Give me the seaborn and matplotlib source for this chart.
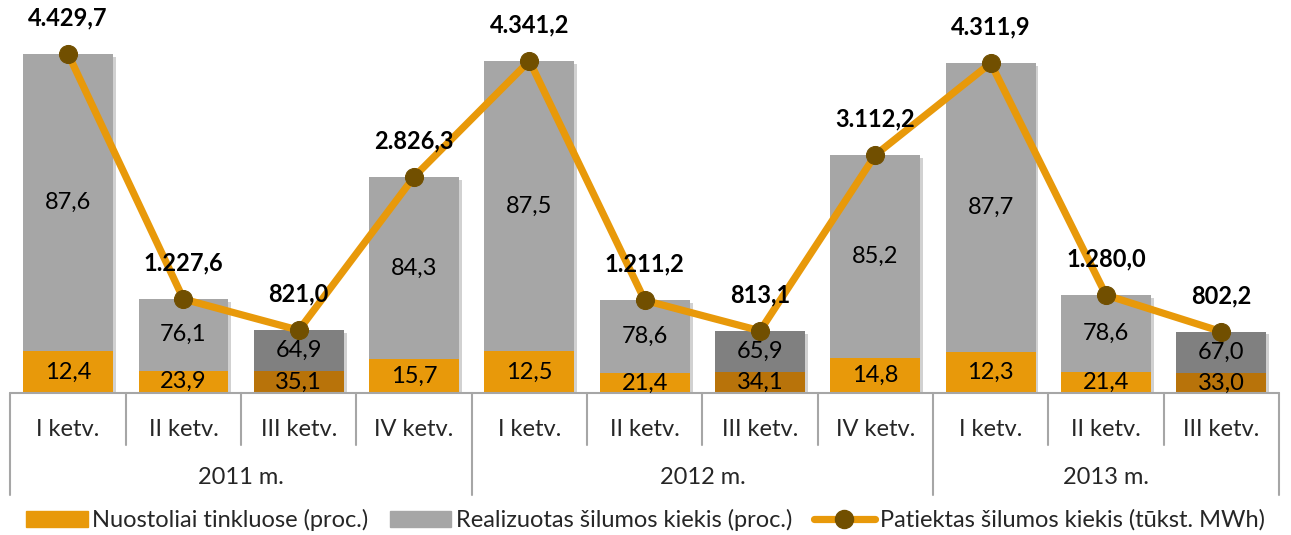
import numpy as np
import pandas as pd
import matplotlib
matplotlib.use("Agg")
import matplotlib.pyplot as plt
import matplotlib.patheffects as pe
from matplotlib.patches import Patch
from matplotlib.lines import Line2D
import seaborn as sns

# ---- data ----
years = ["2011 m.", "2012 m.", "2013 m."]
year_of = ["2011 m."] * 4 + ["2012 m."] * 4 + ["2013 m."] * 3
quarters = ["I ketv.", "II ketv.", "III ketv.", "IV ketv.",
            "I ketv.", "II ketv.", "III ketv.", "IV ketv.",
            "I ketv.", "II ketv.", "III ketv."]
supplied = [4429.7, 1227.6, 821.0, 2826.3, 4341.2, 1211.2, 813.1, 3112.2, 4311.9, 1280.0, 802.2]
losses_pct = [12.4, 23.9, 35.1, 15.7, 12.5, 21.4, 34.1, 14.8, 12.3, 21.4, 33.0]
realized_pct = [87.6, 76.1, 64.9, 84.3, 87.5, 78.6, 65.9, 85.2, 87.7, 78.6, 67.0]

ORANGE = "#E8990A"
ORANGE_D = "#B8730A"
GRAY = "#A6A6A6"
GRAY_D = "#808080"
BROWN = "#714F00"

keys = [f"{y} {q}" for y, q in zip(year_of, quarters)]
df = pd.DataFrame({"key": keys, "quarter": quarters, "year": year_of,
                   "supplied": supplied, "loss_pct": losses_pct, "real_pct": realized_pct})
df["loss_amt"] = df["supplied"] * df["loss_pct"] / 100.0

is_q3 = [q == "III ketv." for q in quarters]
gray_pal = [GRAY_D if q3 else GRAY for q3 in is_q3]
orange_pal = [ORANGE_D if q3 else ORANGE for q3 in is_q3]

sns.set_theme(style="white")
plt.rcParams["font.family"] = ["Lato", "DejaVu Sans"]

fig = plt.figure(figsize=(12.91, 5.35), dpi=100)
ax = fig.add_axes([10.5 / 1291, (535 - 393) / 535, 1268.5 / 1291, 393 / 535])

shadow = [pe.SimplePatchShadow(offset=(2, -2), alpha=0.18, shadow_rgbFace="black"), pe.Normal()]

sns.barplot(data=df, x="key", y="supplied", hue="key", order=keys, hue_order=keys,
            palette=gray_pal, saturation=1, width=0.78, legend=False, ax=ax, errorbar=None,
            linewidth=0, edgecolor="none")
sns.barplot(data=df, x="key", y="loss_amt", hue="key", order=keys, hue_order=keys,
            palette=orange_pal, saturation=1, width=0.78, legend=False, ax=ax, errorbar=None,
            linewidth=0, edgecolor="none")
for i, p in enumerate(ax.patches):
    if i < len(keys):
        p.set_path_effects(shadow)

pos = np.arange(len(keys))
sns.lineplot(x=pos, y=df["supplied"].values, ax=ax, color=ORANGE, linewidth=5.2,
             marker="o", markersize=13, markerfacecolor=BROWN, markeredgecolor=BROWN,
             zorder=5)

def fmt(v):
    s = f"{v:,.1f}"
    return s.replace(",", "X").replace(".", ",").replace("X", ".")

FS = 17
for i, r in df.iterrows():
    la = r["loss_amt"]
    tot = r["supplied"]
    ax.text(i, la / 2, fmt(r["loss_pct"]), ha="center", va="center", fontsize=FS, color="black", zorder=6)
    ax.text(i, la + (tot - la) / 2, fmt(r["real_pct"]), ha="center", va="center", fontsize=FS,
            color="black", zorder=6)
    ax.annotate(fmt(tot), (i, tot), xytext=(0, 26), textcoords="offset points",
                ha="center", va="center", fontsize=FS, fontweight="bold", color="black", zorder=7)

ax.set_xlim(-0.5, len(keys) - 0.5)
ax.set_ylim(0, 393 / 0.0765)
for s in ax.spines.values():
    s.set_visible(False)
ax.set_yticks([])
ax.set_xlabel("")
ax.set_ylabel("")
ax.set_xticks(pos)
ax.set_xticklabels(quarters, fontsize=FS)
ax.tick_params(axis="x", length=0, pad=19)

LC = "#A6A6A6"
trans = ax.get_xaxis_transform()
ax.plot([-0.5, len(keys) - 0.5], [0, 0], color=LC, lw=1.5, transform=trans, clip_on=False)
boundaries = np.arange(len(keys) + 1) - 0.5
year_bounds = [-0.5, 3.5, 7.5, 10.5]
for b in boundaries:
    low = -0.2595 if b in year_bounds else -0.132
    ax.plot([b, b], [0, low], color=LC, lw=1.5, transform=trans, clip_on=False)

for y in years:
    idx = [i for i, yy in enumerate(year_of) if yy == y]
    ax.text(np.mean(idx), -0.216, y, transform=trans, ha="center", va="center", fontsize=FS)

handles = [Patch(facecolor=ORANGE, edgecolor=ORANGE),
           Patch(facecolor=GRAY, edgecolor=GRAY),
           Line2D([0], [0], color=ORANGE, lw=5.2, marker="o", markersize=13,
                  markerfacecolor=BROWN, markeredgecolor=BROWN)]
labels = ["Nuostoliai tinkluose (proc.)", "Realizuotas šilumos kiekis (proc.)",
          "Patiektas šilumos kiekis (tūkst. MWh)"]
fig.legend(handles, labels, loc="center", bbox_to_anchor=(0.5, 1 - 520 / 535), ncol=3,
           frameon=False, fontsize=FS, handlelength=2.6, handletextpad=0.2, columnspacing=0.9)

fig.savefig("out.png", dpi=100)
